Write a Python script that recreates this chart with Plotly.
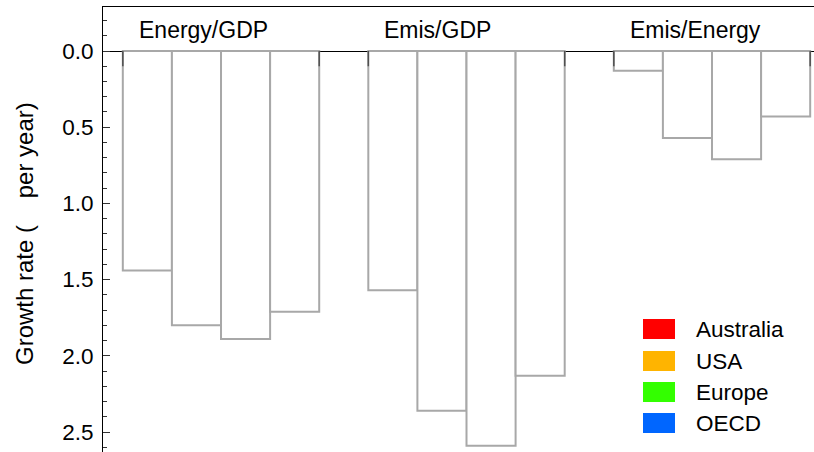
import plotly.graph_objects as go

# ---- data ----
groups = ["Energy/GDP", "Emis/GDP", "Emis/Energy"]
series = ["Australia", "USA", "Europe", "OECD"]
australia = [1.44, 1.57, 0.13]
usa = [1.80, 2.36, 0.57]
europe = [1.89, 2.59, 0.71]
oecd = [1.71, 2.13, 0.43]
values = [australia, usa, europe, oecd]
legend_colors = ["#FF0000", "#FFB400", "#33FF00", "#0066FF"]
y_title = "Growth rate (\u00a0\u00a0\u00a0\u00a0per year)"

# ---- layout constants (pixels) ----
W, H = 814, 452
L, R, T, B = 103, 0, 7, 0
FONT = "Liberation Sans, Arial, sans-serif"
FS = 22.5

def px_x(X):
    return (X - L) / (W - L - R)

def px_y(Y):
    return (H - B - Y) / (H - T - B)

fig = go.Figure()
for name, vals in zip(series, values):
    fig.add_trace(go.Bar(
        x=groups, y=vals, name=name, showlegend=False,
        marker=dict(color="white", line=dict(color="rgb(168,168,168)", width=2)),
    ))

shapes = []
# category boundary ticks at the zero line
for gi in range(len(groups)):
    for edge in (-0.4, 0.4):
        shapes.append(dict(type="line", xref="x", yref="y",
                           x0=gi + edge, x1=gi + edge, y0=0, y1=0.1,
                           line=dict(color="#505050", width=1.5), layer="above"))

annotations = []
for gi, g in enumerate(groups):
    annotations.append(dict(x=gi - 0.4, y=-0.14, xref="x", yref="y", text=g,
                            showarrow=False, xanchor="left", yanchor="middle",
                            xshift=14, font=dict(family=FONT, size=23, color="black")))

# legend drawn manually
row_y = [329, 361, 392, 423]
for name, col, ry in zip(series, legend_colors, row_y):
    shapes.append(dict(type="rect", xref="paper", yref="paper",
                       x0=px_x(643), x1=px_x(675), y0=px_y(ry + 10), y1=px_y(ry - 10),
                       fillcolor=col, line=dict(width=0), layer="above"))
    annotations.append(dict(x=px_x(694), y=px_y(ry), xref="paper", yref="paper",
                            text=name, showarrow=False, xanchor="left", yanchor="middle",
                            font=dict(family=FONT, size=FS, color="black")))

annotations.append(dict(x=px_x(24), y=px_y(234), xref="paper", yref="paper",
                        text=y_title, textangle=-90, showarrow=False,
                        xanchor="center", yanchor="middle",
                        font=dict(family=FONT, size=24, color="black")))

fig.update_layout(
    width=W, height=H,
    margin=dict(l=L, r=R, t=T, b=B, pad=0, autoexpand=False),
    paper_bgcolor="white", plot_bgcolor="white",
    barmode="group", bargap=0.2, bargroupgap=0,
    shapes=shapes, annotations=annotations, showlegend=False,
    font=dict(family=FONT, size=FS, color="black"),
)
fig.update_xaxes(
    type="category", range=[-0.4807, 2.4155], side="top", automargin=False,
    showline=True, linecolor="black", linewidth=1,
    showticklabels=False, ticks="", showgrid=False, zeroline=False,
)
fig.update_yaxes(
    range=[2.631, -0.2887], automargin=False,
    showline=True, linecolor="black", linewidth=1,
    ticks="inside", ticklen=7, tickwidth=1, tickcolor="#333",
    dtick=0.5, tick0=0, tickformat=".1f",
    minor=dict(ticks="inside", ticklen=4, dtick=0.1, tickcolor="#333", tickwidth=1),
    showgrid=False, zeroline=True, zerolinecolor="black", zerolinewidth=1,
    tickfont=dict(family=FONT, size=FS, color="black"),
    ticklabelstandoff=4,
)

fig.write_html("out.html", config={"displayModeBar": False},
               post_script="document.body.style.margin='0';document.body.style.overflow='hidden';")
